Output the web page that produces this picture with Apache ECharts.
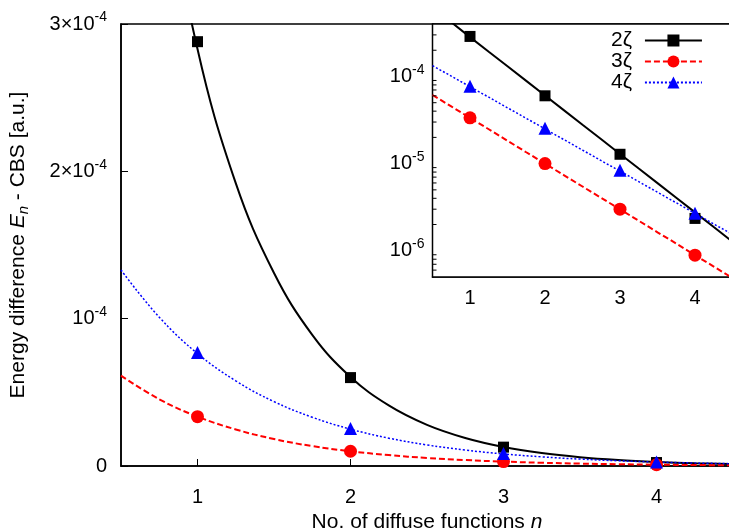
<!DOCTYPE html>
<html>
<head>
<meta charset="utf-8">
<script src="https://cdn.jsdelivr.net/npm/echarts@6/dist/echarts.min.js"></script>
<style>
    html, body { margin: 0; padding: 0; background: #fff; }
    #main { width: 729px; height: 530px; }
</style>
</head>
<body>
<div id="main"></div>
<script>
    // data points (n = 1..4)
    var nValues = [1, 2, 3, 4];
    var pts2z = [2.88e-4, 6.0e-5, 1.28e-5, 2.35e-6];
    var pts3z = [3.35e-5, 1.0e-5, 3.0e-6, 8.9e-7];
    var pts4z = [7.7e-5, 2.55e-5, 8.4e-6, 2.7e-6];

    // fitted curves
    var fitX = [0.5, 0.75, 1, 1.25, 1.5, 1.75, 2, 2.25, 2.5, 2.75, 3, 3.25, 3.5, 3.75, 4, 4.25, 4.5];
    var fit2z = [6.1e-4, 4.2e-4, 2.83e-4, 1.92e-4, 1.31e-4, 8.9e-5, 6.04e-5, 4.11e-5, 2.79e-5, 1.9e-5, 1.29e-5, 8.77e-6, 5.97e-6, 4.06e-6, 2.76e-6, 1.87e-6, 1.27e-6];
    var fit3z = [6.13e-5, 4.53e-5, 3.35e-5, 2.48e-5, 1.83e-5, 1.35e-5, 1.0e-5, 7.39e-6, 5.46e-6, 4.04e-6, 2.99e-6, 2.21e-6, 1.63e-6, 1.21e-6, 8.9e-7, 6.59e-7, 4.87e-7];
    var fit4z = [1.33e-4, 1.01e-4, 7.63e-5, 5.78e-5, 4.37e-5, 3.31e-5, 2.5e-5, 1.89e-5, 1.43e-5, 1.08e-5, 8.2e-6, 6.21e-6, 4.69e-6, 3.55e-6, 2.69e-6, 2.03e-6, 1.54e-6];

    // ticks
    var xTicks = [1, 2, 3, 4];
    var logMinorTicks = [6e-7, 7e-7, 8e-7, 9e-7, 2e-6, 3e-6, 4e-6, 5e-6, 6e-6, 7e-6, 8e-6, 9e-6,
        2e-5, 3e-5, 4e-5, 5e-5, 6e-5, 7e-5, 8e-5, 9e-5, 2e-4, 3e-4];
    var legendNames = ['2ζ', '3ζ', '4ζ'];

    var FONT = 'Liberation Sans';

    function pairs(xs, ys) {
        return xs.map(function (x, i) { return [x, ys[i]]; });
    }

    var styles = [
        {color: '#000000', dash: 'solid', width: 2, symbol: 'rect', size: 11},
        {color: '#ff0000', dash: [6, 3], width: 2, symbol: 'circle', size: 13},
        {color: '#0000ff', dash: [2, 2], width: 1.5, symbol: 'triangle', size: 13}
    ];
    var fits = [fit2z, fit3z, fit4z];
    var pts = [pts2z, pts3z, pts4z];

    var supRich = {
        s: {fontSize: 14, fontFamily: FONT, color: '#000', padding: [0, 0, 13, 0]}
    };

    var series = [];
    // inset first so the legend finds it by name
    for (var k = 0; k < 3; k++) {
        var st = styles[k];
        series.push({
            name: legendNames[k],
            type: 'line',
            xAxisIndex: 1, yAxisIndex: 1,
            data: pairs(fitX, fits[k]),
            symbol: st.symbol, symbolSize: st.size, showSymbol: false,
            lineStyle: {color: st.color, type: st.dash, width: st.width},
            itemStyle: {color: st.color, opacity: 1},
            z: 3
        });
        series.push({
            name: 'inset pts ' + k,
            type: 'scatter',
            xAxisIndex: 1, yAxisIndex: 1,
            data: pairs(nValues, pts[k]),
            symbol: st.symbol, symbolSize: st.size,
            itemStyle: {color: st.color, opacity: 1},
            z: 4
        });
    }
    // minor ticks of the log inset axis
    series.push({
        name: 'minor ticks',
        type: 'scatter',
        xAxisIndex: 1, yAxisIndex: 1,
        data: logMinorTicks.map(function (v) { return [0.5, v]; }),
        symbol: 'rect', symbolSize: [4, 1], symbolOffset: [2, 0],
        itemStyle: {color: '#000', opacity: 1},
        clip: false, silent: true, z: 5
    });
    for (var k = 0; k < 3; k++) {
        var st = styles[k];
        series.push({
            name: 'main fit ' + k,
            type: 'line',
            xAxisIndex: 0, yAxisIndex: 0,
            data: pairs(fitX, fits[k]),
            showSymbol: false, smooth: 0.4,
            lineStyle: {color: st.color, type: st.dash, width: st.width},
            itemStyle: {color: st.color},
            z: 3
        });
        series.push({
            name: 'main pts ' + k,
            type: 'scatter',
            xAxisIndex: 0, yAxisIndex: 0,
            data: pairs(nValues, pts[k]),
            symbol: st.symbol, symbolSize: st.size, clip: false,
            itemStyle: {color: st.color, opacity: 1},
            z: 4
        });
    }

    var opt = {
        animation: false,
        backgroundColor: '#fff',
        textStyle: {fontFamily: FONT, color: '#000'},
        grid: [
            {left: 121, top: 24, width: 612, height: 442, outerBoundsMode: 'none', containLabel: false,
                show: true, borderColor: '#000', borderWidth: 1.5, backgroundColor: 'transparent'},
            {left: 432.5, top: 24, width: 300, height: 253, outerBoundsMode: 'none', containLabel: false,
                show: true, borderColor: '#000', borderWidth: 1.5, backgroundColor: '#fff', z: 1}
        ],
        legend: {
            data: legendNames,
            orient: 'vertical',
            left: 611, top: 30,
            align: 'right',
            padding: 0,
            itemWidth: 57, itemHeight: 15, itemGap: 0,
            textStyle: {fontFamily: FONT, fontSize: 21, color: '#000', padding: [0, 8, 0, 0]},
            selectedMode: false
        },
        xAxis: [
            {
                type: 'value', gridIndex: 0, min: 0.5, max: 4.5,
                name: 'No. of diffuse functions {i|n}', nameLocation: 'middle', nameGap: 44,
                nameTextStyle: {fontSize: 21, fontFamily: FONT, color: '#000',
                    rich: {i: {fontSize: 21, fontFamily: FONT, fontStyle: 'italic', color: '#000'}}},
                axisLine: {show: true, lineStyle: {color: '#000', width: 1.5}},
                axisTick: {show: true, inside: true, length: 7, customValues: xTicks, lineStyle: {color: '#000', width: 1}},
                axisLabel: {customValues: xTicks, fontSize: 20, color: '#000', fontFamily: FONT, margin: 21},
                splitLine: {show: false}
            },
            {
                type: 'value', gridIndex: 1, min: 0.5, max: 4.5,
                axisLine: {show: true, lineStyle: {color: '#000', width: 1.5}},
                axisTick: {show: true, inside: true, length: 7, customValues: xTicks, lineStyle: {color: '#000', width: 1}},
                axisLabel: {customValues: xTicks, fontSize: 20, color: '#000', fontFamily: FONT, margin: 11},
                splitLine: {show: false}
            }
        ],
        yAxis: [
            {
                type: 'value', gridIndex: 0, min: 0, max: 3e-4, interval: 1e-4,
                name: '{r|Energy difference }{i|E}{sub|n}{r| - CBS [a.u.]}',
                nameLocation: 'middle', nameGap: 90, nameRotate: 90,
                nameTextStyle: {
                    fontSize: 21, fontFamily: FONT, color: '#000',
                    rich: {
                        r: {fontSize: 21, fontFamily: FONT, color: '#000'},
                        i: {fontSize: 21, fontFamily: FONT, fontStyle: 'italic', color: '#000'},
                        sub: {fontSize: 15, fontFamily: FONT, fontStyle: 'italic', color: '#000', padding: [10, 0, 0, 0]}
                    }
                },
                axisLine: {show: true, lineStyle: {color: '#000', width: 1.5}},
                axisTick: {show: true, inside: true, length: 7, lineStyle: {color: '#000', width: 1}},
                axisLabel: {
                    fontSize: 20, color: '#000', fontFamily: FONT, margin: 14,
                    formatter: function (v) {
                        var m = Math.round(v * 1e4);
                        if (m === 0) return '0';
                        if (m === 1) return '10{s|-4}';
                        return m + '×10{s|-4}';
                    },
                    rich: supRich
                },
                splitLine: {show: false}
            },
            {
                type: 'log', logBase: 10, gridIndex: 1, min: 5e-7, max: 4e-4,
                axisLine: {show: true, lineStyle: {color: '#000', width: 1.5}},
                axisTick: {show: true, inside: true, length: 7, lineStyle: {color: '#000', width: 1}},
                axisLabel: {
                    fontSize: 20, color: '#000', fontFamily: FONT, margin: 8,
                    showMinLabel: false, showMaxLabel: false,
                    formatter: function (v) {
                        var e = Math.log(v) / Math.LN10;
                        if (Math.abs(e - Math.round(e)) > 1e-6) return '';
                        return '10{s|' + Math.round(e) + '}';
                    },
                    rich: supRich
                },
                splitLine: {show: false}
            }
        ],
        series: series
    };

    var chart = echarts.init(document.getElementById('main'));
    chart.setOption(opt);
</script>
</body>
</html>
